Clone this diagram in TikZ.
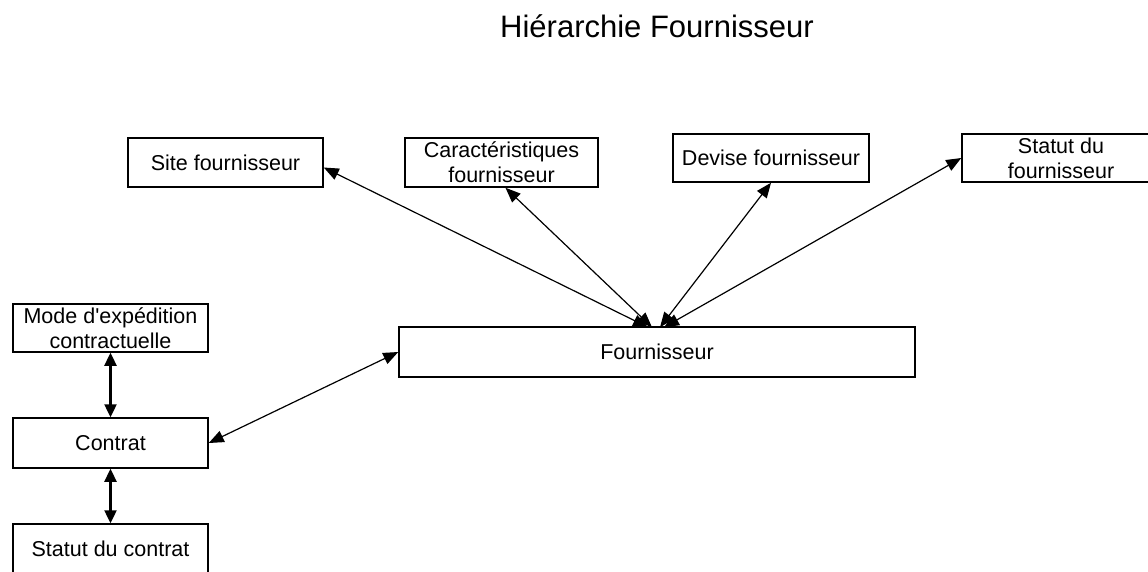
\documentclass[tikz,border=0pt]{standalone}
\usepackage{fontspec}
\setmainfont{Liberation Sans}
\usetikzlibrary{arrows.meta}
\begin{document}
\begin{tikzpicture}[x=1pt,y=-1pt,
  box/.style={draw,line width=1.5pt,inner sep=0pt,align=center,
    font=\fontsize{21.5}{25}\selectfont},
  link/.style={line width=1.2pt,{Triangle[length=15pt,width=12pt]}-{Triangle[length=15pt,width=12pt]}},
  vlink/.style={line width=2.4pt,{Triangle[length=13pt,width=12pt]}-{Triangle[length=13pt,width=12pt]}}]
\clip (0,0) rectangle (1148,571);
\fill[white] (0,0) rectangle (1148,571);

% title
\node[font=\fontsize{31}{36}\selectfont,anchor=base] (title) at (657,37) {Hiérarchie Fournisseur};

% top row
\node[box,minimum width=195pt,minimum height=49pt] (site) at (225.5,162.5) {Site fournisseur};
\node[box,minimum width=193pt,minimum height=49pt] (carac) at (501.5,162.5) {Caractéristiques\\fournisseur};
\node[box,minimum width=196pt,minimum height=48pt] (devise) at (771,158) {Devise fournisseur};
\node[box,minimum width=198pt,minimum height=48pt] (statutf) at (1061,158) {Statut du\\fournisseur};

% central entity
\node[box,minimum width=516pt,minimum height=50pt] (fourn) at (657,352) {Fournisseur};

% contract column
\node[box,minimum width=195pt,minimum height=48pt] (mode) at (110.5,328) {Mode d\textquotesingle expédition\\contractuelle};
\node[box,minimum width=195pt,minimum height=50pt] (contrat) at (110.5,443) {Contrat};
\node[box,minimum width=195pt,minimum height=50pt] (statutc) at (110.5,549) {Statut du contrat};

% links to the supplier
\coordinate (f1) at ([xshift=-9pt,yshift=-1pt]fourn.north);
\coordinate (f2) at ([xshift=-5pt,yshift=-1pt]fourn.north);
\coordinate (f3) at ([xshift=3pt,yshift=-1pt]fourn.north);
\coordinate (f4) at ([xshift=7pt,yshift=-1pt]fourn.north);
\draw[link] ([yshift=-5pt]site.east) -- (f1);
\draw[link] ([xshift=4pt]carac.south) -- (f2);
\draw[link] (devise.south) -- (f3);
\draw[link] (statutf.west) -- (f4);
\draw[link] (fourn.west) -- (contrat.east);

% contract chain
\draw[vlink] (mode.south) -- (contrat.north);
\draw[vlink] (contrat.south) -- (statutc.north);
\end{tikzpicture}
\end{document}
